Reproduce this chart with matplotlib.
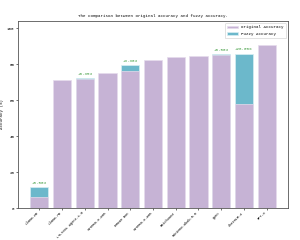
import numpy as np
import matplotlib
matplotlib.use("Agg")
import matplotlib.pyplot as plt

models = ['Llama-2B', 'Llama-7B', 'LTLTOOL Agent-1.5', 'INTERN-3-20B', 'ERNIE Bot',
          'INTERN-3-40B', 'Baichuan3', 'MiniMax-abab-5.5', 'Qwen', 'ChatGLM-4', 'GPT-4']
original = [6.0, 71.0, 71.8, 75.0, 76.0, 82.2, 83.9, 84.3, 85.2, 57.8, 90.4]
fuzzy = [11.5, None, 72.15, None, 79.3, None, None, None, 85.7, 85.8, None]
gains = ['+5.50%', None, '+0.35%', None, '+3.30%', None, None, None, '+0.50%', '+28.00%', None]

plt.rcParams['font.family'] = ['Liberation Mono', 'DejaVu Sans Mono']

purple = '#c6b3d5'
teal = '#6cb8cb'

fig = plt.figure(figsize=(3, 2.4), dpi=100)
ax = fig.add_axes([0.06, 0.133, 0.90, 0.78])

x = np.arange(len(models))
fz = [f if f is not None else 0 for f in fuzzy]
ax.bar(x, fz, width=0.8, color=teal, edgecolor='#d8eef3', linewidth=0.5, label='Fuzzy Accuracy', zorder=2)
ax.bar(x, original, width=0.8, color=purple, edgecolor='#e6dcec', linewidth=0.5, label='Original Accuracy', zorder=3)

for i, g in enumerate(gains):
    if g is not None:
        ax.text(x[i], fuzzy[i] + 1.2, g, ha='center', va='bottom', fontsize=3.0, color='#3a9a3a')

ax.set_ylim(0, 104)
ax.set_yticks([0, 20, 40, 60, 80, 100])
ax.set_xticks(x)
ax.set_xticklabels(models, rotation=45, ha='right', fontsize=2.6)
ax.tick_params(axis='y', labelsize=3.0, length=1.5, width=0.4, pad=1)
ax.tick_params(axis='x', length=1.5, width=0.4, pad=0.5)
ax.set_ylabel('Accuracy (%)', fontsize=3.0, labelpad=2)
ax.set_title('The comparison between original accuracy and fuzzy accuracy.', fontsize=3.0, pad=3)
for s in ax.spines.values():
    s.set_linewidth(0.6)
    s.set_color('#555555')

h, l = ax.get_legend_handles_labels()
ax.legend(h[::-1], l[::-1], loc='upper right', fontsize=3.0, frameon=True, handlelength=2.5,
          borderpad=0.6, labelspacing=0.6, framealpha=1, edgecolor='#cccccc').get_frame().set_linewidth(0.4)

fig.savefig('out.png', dpi=100)
